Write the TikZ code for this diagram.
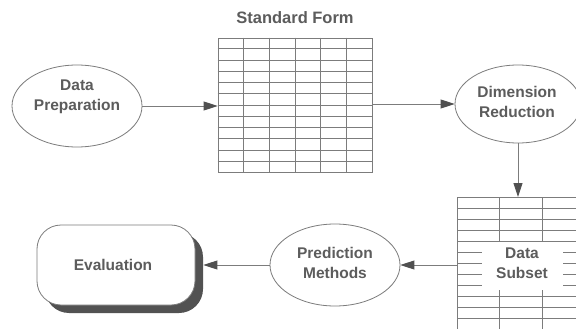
\documentclass[tikz,border=0pt]{standalone}
\usepackage{fontspec}
\setmainfont{Liberation Sans}
\usetikzlibrary{arrows.meta,calc,shadows,positioning,shapes.geometric}

\definecolor{linegray}{HTML}{7C7C7C}
\definecolor{textgray}{HTML}{5C5C5C}
\definecolor{tipgray}{HTML}{505050}

\tikzset{
  lbl/.style={font=\fontsize{15.5}{20}\selectfont\bfseries, text=textgray, align=center},
  oval/.style={ellipse, draw=linegray, line width=0.8pt, minimum width=130pt,
               minimum height=82pt, inner sep=0pt},
  table/.style={rectangle, draw=linegray, line width=0.8pt, inner sep=0pt},
  gridline/.style={draw=linegray, line width=0.8pt},
  flow/.style={draw=linegray, line width=0.9pt,
               -{Triangle[length=14pt,width=9pt,fill=tipgray,color=tipgray]}},
  evalbox/.style={rectangle, rounded corners=24pt, draw=linegray, line width=0.8pt,
                  fill=white, minimum width=158pt, minimum height=80pt,
                  drop shadow={shadow xshift=8pt, shadow yshift=-8pt,
                               fill=black!68, opacity=1}}
}

\begin{document}
\begin{tikzpicture}[x=1pt, y=-1pt]
  \clip (0,0) rectangle (576,329);
  \fill[white] (0,0) rectangle (576,329);

  % standard form table
  \node[table, minimum width=154pt, minimum height=134pt] (sf) at (295,105) {};
  \node[lbl, font=\fontsize{16.5}{20}\selectfont\bfseries] (sftitle) at (295,18) {Standard Form};
  \foreach \k in {1,...,5}
    \draw[gridline] ($(sf.north west)!\k/6!(sf.north east)$) -- ($(sf.south west)!\k/6!(sf.south east)$);
  \foreach \k in {1,...,11}
    \draw[gridline] ($(sf.north west)!\k/12!(sf.south west)$) -- ($(sf.north east)!\k/12!(sf.south east)$);

  % process ovals
  \node[oval] (dp) at (77,106) {};
  \node[lbl] at (77,97) {Data\\Preparation};
  \node[oval, minimum width=126pt, minimum height=78pt] (dr) at (518,104) {};
  \node[lbl] at (517,102) {Dimension\\Reduction};
  \node[oval] (pm) at (335,265) {};
  \node[lbl] at (335,263) {Prediction\\Methods};

  % evaluation box with shadow
  \node[evalbox] (ev) at (116,265) {};
  \node[lbl] at (113,265) {Evaluation};

  % data subset table (runs off the page edge)
  \node[table, anchor=north west, minimum width=150pt, minimum height=150pt] (ds) at (457,197) {};
  \begin{scope}[shift={(ds.north west)}]
    % full rows above and below the label
    \foreach \r in {1,...,4, 9,10,11,12}
      \draw[gridline] (0,\r*11) -- (150,\r*11);
    % rows broken around the label
    \foreach \r in {5,...,8} {
      \draw[gridline] (0,\r*11) -- (25,\r*11);
      \draw[gridline] (106,\r*11) -- (150,\r*11);
    }
    % column lines broken around the label
    \foreach \c in {1,2,3} {
      \draw[gridline] (\c*42.5,0) -- (\c*42.5,44);
      \draw[gridline] (\c*42.5,93) -- (\c*42.5,150);
    }
  \end{scope}
  \node[lbl] (dslbl) at (522,263) {Data\\Subset};

  % connectors
  \draw[flow] (dp.east) -- (dp.east -| sf.west);
  \draw[flow] (dr.west -| sf.east) -- (dr.west);
  \draw[flow] (dr.south) -- (dr.south |- ds.north);
  \draw[flow] (pm.east -| ds.west) -- (pm.east);
  \draw[flow] (pm.west) -- ([xshift=8pt]ev.east);
\end{tikzpicture}
\end{document}
